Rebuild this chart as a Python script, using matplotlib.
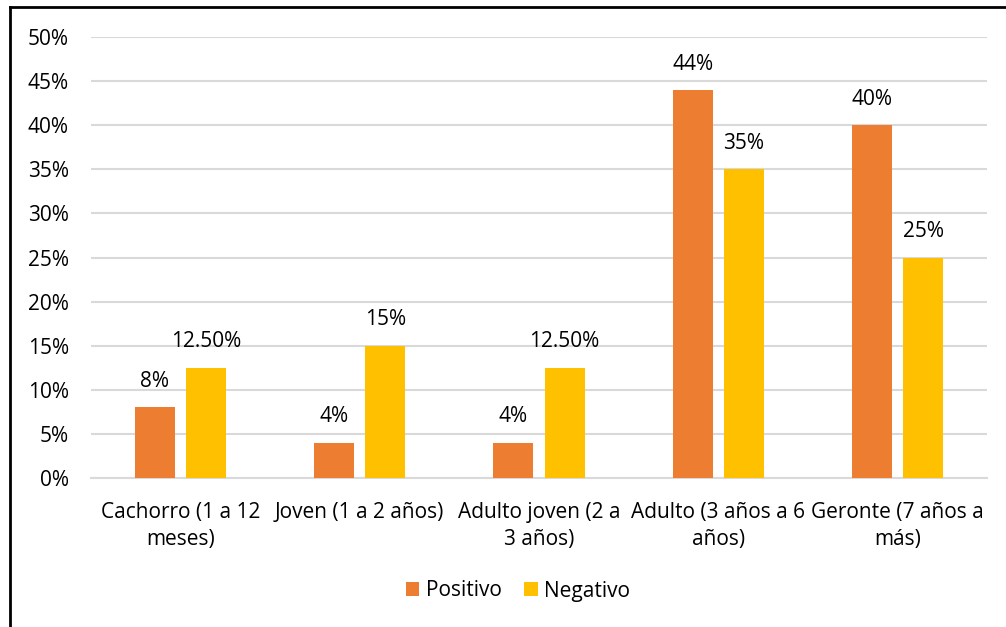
import numpy as np
import matplotlib.pyplot as plt
from matplotlib.lines import Line2D
from matplotlib.ticker import PercentFormatter

categorias = ["Cachorro (1 a 12\nmeses)", "Joven (1 a 2 años)", "Adulto joven (2 a\n3 años)",
              "Adulto (3 años a 6\naños)", "Geronte (7 años a\nmás)"]
positivo = [8, 4, 4, 44, 40]
negativo = [12.5, 15, 12.5, 35, 25]
etiq_pos = ["8%", "4%", "4%", "44%", "40%"]
etiq_neg = ["12.50%", "15%", "12.50%", "35%", "25%"]

plt.rcParams['font.family'] = ['Open Sans', 'DejaVu Sans']
fs = 15

fig = plt.figure(figsize=(10.06, 6.27), dpi=100)
ax = fig.add_axes([91 / 1006, 1 - 478 / 627, (987 - 91) / 1006, (478 - 37) / 627])

x = np.arange(len(categorias))
w = 0.223
off = 0.143
b1 = ax.bar(x - off, positivo, w, color='#ED7D31', label='Positivo', zorder=3)
b2 = ax.bar(x + off, negativo, w, color='#FFC000', label='Negativo', zorder=3)

for bars, labs in ((b1, etiq_pos), (b2, etiq_neg)):
    for rect, lab in zip(bars, labs):
        ax.annotate(lab, (rect.get_x() + rect.get_width() / 2, rect.get_height()),
                    xytext=(0, 11), textcoords='offset points', ha='center', va='bottom',
                    fontsize=fs, color='#000000')

ax.set_xlim(-0.5, 4.5)
ax.set_ylim(0, 50)
ax.set_yticks(np.arange(0, 51, 5))
ax.yaxis.set_major_formatter(PercentFormatter(decimals=0))
ax.set_xticks(x)
ax.set_xticklabels(categorias, fontsize=fs, linespacing=1.4)
ax.tick_params(axis='y', length=0, pad=16, labelsize=fs)
ax.tick_params(axis='x', length=0, pad=17)
ax.grid(axis='y', color='#d9d9d9', linewidth=1.5, zorder=0)
for s in ('top', 'right', 'left'):
    ax.spines[s].set_visible(False)
ax.spines['bottom'].set_color('#d9d9d9')
ax.spines['bottom'].set_linewidth(1.5)

fig.legend(handles=[b1, b2], loc='center', bbox_to_anchor=(0.515, 1 - 591 / 627), ncol=2,
           frameon=False, fontsize=fs, handlelength=0.65, handleheight=0.65,
           handletextpad=0.3, columnspacing=1.1)

# chart frame: left and top edges only
fig.add_artist(Line2D([10 / 1006, 10 / 1006], [0, 1 - 7 / 627], color='black', linewidth=2))
fig.add_artist(Line2D([10 / 1006, 1], [1 - 7 / 627, 1 - 7 / 627], color='black', linewidth=2))

fig.savefig('out.png', dpi=100)
